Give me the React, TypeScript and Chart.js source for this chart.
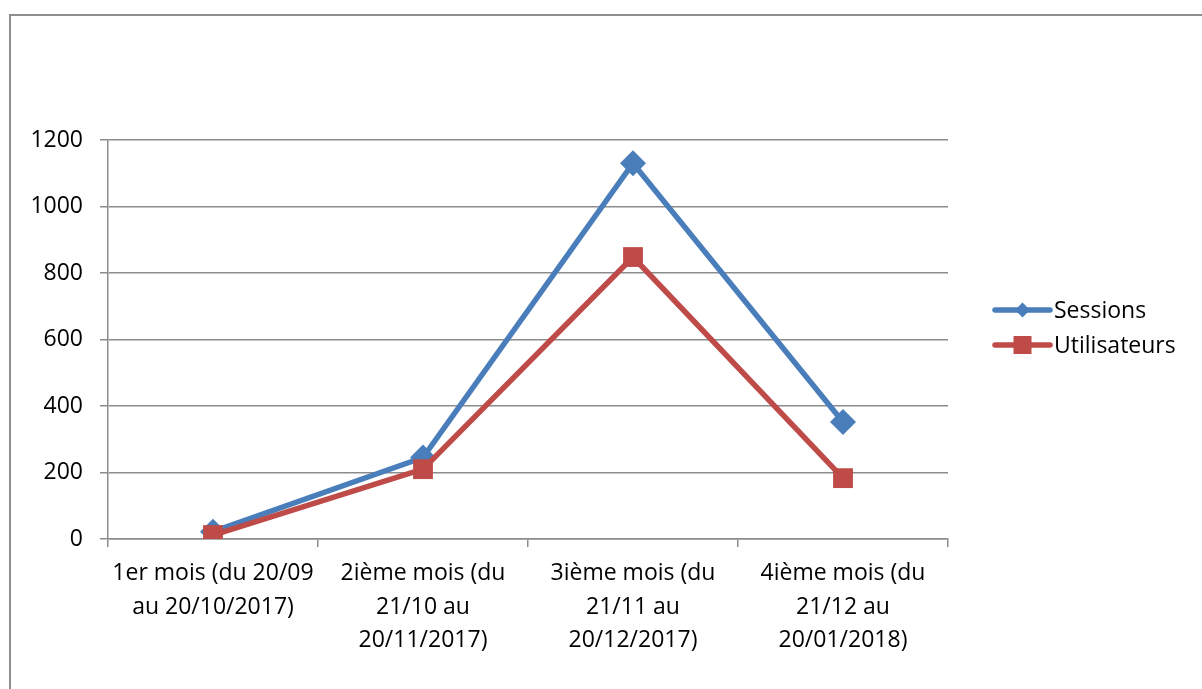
import React, { useEffect, useRef } from "react";
import { Chart, registerables } from "chart.js";

Chart.register(...registerables);

const categories: string[][] = [
  ["1er mois (du 20/09", "au 20/10/2017)"],
  ["2ième mois (du", "21/10 au", "20/11/2017)"],
  ["3ième mois (du", "21/11 au", "20/12/2017)"],
  ["4ième mois (du", "21/12 au", "20/01/2018)"],
];
const sessions: number[] = [22, 245, 1130, 352];
const utilisateurs: number[] = [12, 210, 848, 183];
const seriesNames: string[] = ["Sessions", "Utilisateurs"];
const yTicks: number[] = [0, 200, 400, 600, 800, 1000, 1200];

const BLUE = "#4A7EBB";
const RED = "#BE4B48";
const GRID = "#8c8c8c";
const FONT = "'Open Sans', 'DejaVu Sans', sans-serif";

const legendPlugin = {
  id: "excelLegend",
  afterDraw(chart: any) {
    const ctx = chart.ctx as CanvasRenderingContext2D;
    const area = chart.chartArea;
    const x0 = area.right + 47;
    const x1 = x0 + 55;
    const mid = (area.top + area.bottom) / 2 - 12;
    const ys = [mid - 17.5, mid + 17.5];
    chart.data.datasets.forEach((ds: any, i: number) => {
      const y = ys[i];
      ctx.save();
      ctx.strokeStyle = ds.borderColor;
      ctx.lineWidth = 5.5;
      ctx.lineCap = "round";
      ctx.beginPath();
      ctx.moveTo(x0, y);
      ctx.lineTo(x1, y);
      ctx.stroke();
      ctx.fillStyle = ds.backgroundColor;
      const cx = (x0 + x1) / 2;
      if (ds.pointStyle === "rectRot") {
        const r = 7.5;
        ctx.beginPath();
        ctx.moveTo(cx, y - r);
        ctx.lineTo(cx + r, y);
        ctx.lineTo(cx, y + r);
        ctx.lineTo(cx - r, y);
        ctx.closePath();
        ctx.fill();
      } else {
        const s = 9;
        ctx.fillRect(cx - s, y - s, 2 * s, 2 * s);
      }
      ctx.fillStyle = "#000";
      ctx.font = `23px ${FONT}`;
      ctx.textAlign = "left";
      ctx.textBaseline = "middle";
      ctx.fillText(ds.label, x1 + 4, y + 1);
      ctx.restore();
    });
  },
};

export default function App() {
  const ref = useRef<HTMLCanvasElement | null>(null);
  useEffect(() => {
    if (!ref.current) return;
    const chart = new Chart(ref.current, {
      type: "line",
      data: {
        labels: categories,
        datasets: [
          {
            label: seriesNames[0],
            data: sessions,
            borderColor: BLUE,
            backgroundColor: BLUE,
            borderWidth: 5.5,
            pointStyle: "rectRot",
            pointRadius: 13,
            pointBorderWidth: 0,
            order: 1,
            tension: 0,
          },
          {
            label: seriesNames[1],
            data: utilisateurs,
            borderColor: RED,
            backgroundColor: RED,
            borderWidth: 5.5,
            pointStyle: "rect",
            pointRadius: 14,
            pointBorderWidth: 0,
            order: 0,
            tension: 0,
          },
        ],
      },
      options: {
        animation: false,
        responsive: false,
        maintainAspectRatio: false,
        layout: { padding: { left: 20, top: 140, right: 254, bottom: 0 } },
        plugins: { legend: { display: false }, tooltip: { enabled: false } },
        scales: {
          x: {
            offset: true,
            grid: {
              offset: true,
              drawOnChartArea: false,
              drawTicks: true,
              tickLength: 8,
              color: GRID,
              lineWidth: 1.5,
            },
            border: { display: true, color: GRID, width: 1.5 },
            ticks: {
              color: "#000",
              padding: 10,
              maxRotation: 0,
              autoSkip: false,
              font: { family: FONT, size: 23, lineHeight: 1.45 },
            },
            afterFit(scale: any) {
              scale.height = 150;
            },
          },
          y: {
            min: 0,
            max: 1200,
            afterBuildTicks(scale: any) {
              scale.ticks = yTicks.map((v) => ({ value: v }));
            },
            grid: { color: GRID, lineWidth: 1.5, tickLength: 8 },
            border: { display: true, color: GRID, width: 1.5 },
            ticks: {
              color: "#000",
              padding: 17,
              font: { family: FONT, size: 23 },
              callback: (v: any) => String(v),
            },
            afterFit(scale: any) {
              scale.width = 88;
            },
          },
        },
      },
      plugins: [legendPlugin],
    });
    return () => chart.destroy();
  }, []);
  return (
    <>
      <canvas
        ref={ref}
        width={1202}
        height={689}
        style={{ position: "absolute", left: 0, top: 0, width: 1202, height: 689 }}
      />
      <div
        style={{
          position: "absolute",
          left: 9,
          top: 14,
          width: 1193,
          height: 675,
          borderLeft: "2px solid #8e8e8e",
          borderTop: "2px solid #8e8e8e",
          boxSizing: "border-box",
          pointerEvents: "none",
        }}
      />
    </>
  );
}
